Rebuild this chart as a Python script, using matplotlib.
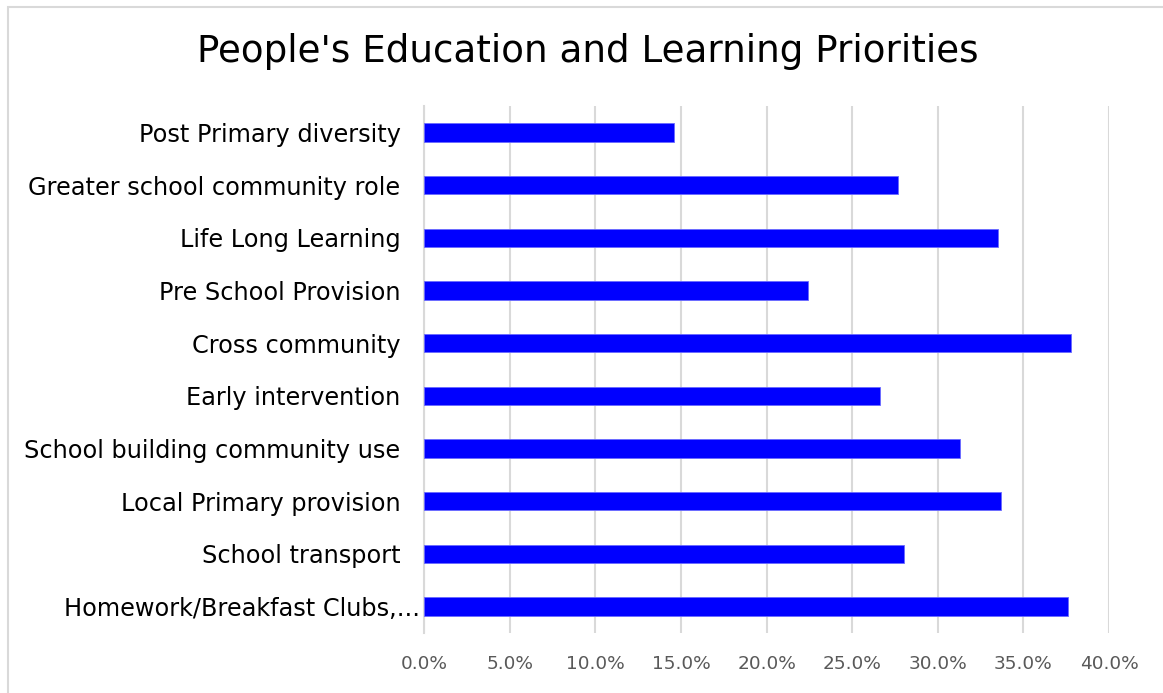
import matplotlib
matplotlib.use("Agg")
import matplotlib.pyplot as plt
import matplotlib.transforms as mtransforms
from matplotlib.patches import Rectangle
from matplotlib.ticker import FuncFormatter, MultipleLocator

# Share of respondents naming each priority (percent), top to bottom
categories = [
    "Post Primary diversity",
    "Greater school community role",
    "Life Long Learning",
    "Pre School Provision",
    "Cross community",
    "Early intervention",
    "School building community use",
    "Local Primary provision",
    "School transport",
    "Homework/Breakfast Clubs,...",
]
values = [14.6, 27.7, 33.5, 22.4, 37.8, 26.6, 31.3, 33.7, 28.0, 37.6]
x_max = 40.0
title = "People's Education and Learning Priorities"

plt.rcParams["font.family"] = ["DejaVu Sans"]

fig = plt.figure(figsize=(11.63, 6.93), dpi=100)
fig.patch.set_facecolor("white")

# Light chart-area border
fig.patches.append(Rectangle((8 / 1163, -0.01), 1.02, 1 - 7 / 693 + 0.01,
                             transform=fig.transFigure, fill=False,
                             edgecolor="#d9d9d9", linewidth=1.5))

ax = fig.add_axes([424.2 / 1163, 1 - 633 / 693, (1109 - 424.2) / 1163, (633 - 106) / 693])

ypos = list(range(len(categories)))
ax.barh(ypos, values, height=0.35, color="#0000ff", edgecolor="#6a6aff",
        linewidth=0.6, zorder=3)

ax.set_ylim(len(categories) - 0.5, -0.5)
ax.set_xlim(0, x_max)
ax.xaxis.set_major_locator(MultipleLocator(5))
ax.xaxis.set_major_formatter(FuncFormatter(lambda v, p: f"{v:.1f}%"))

ax.set_yticks(ypos)
ax.set_yticklabels(categories)

ax.grid(axis="x", color="#d9d9d9", linewidth=1.5, zorder=0)
for side in ("top", "right", "bottom"):
    ax.spines[side].set_visible(False)
ax.spines["left"].set_color("#d9d9d9")
ax.spines["left"].set_linewidth(1.5)

ax.tick_params(axis="x", length=0, pad=16, labelsize=13.3, labelcolor="#595959")
ax.tick_params(axis="y", length=0, pad=17, labelsize=17.3, labelcolor="#000000")

# The truncated last label sits closer to the axis
last = ax.get_yticklabels()[-1]
last.set_transform(last.get_transform() + mtransforms.ScaledTranslation(19 / 100, 0, fig.dpi_scale_trans))

fig.text(588 / 1163, 1 - 52 / 693, title, ha="center", va="center",
         fontsize=26.8, color="#000000")

fig.savefig("out.png", dpi=100)
